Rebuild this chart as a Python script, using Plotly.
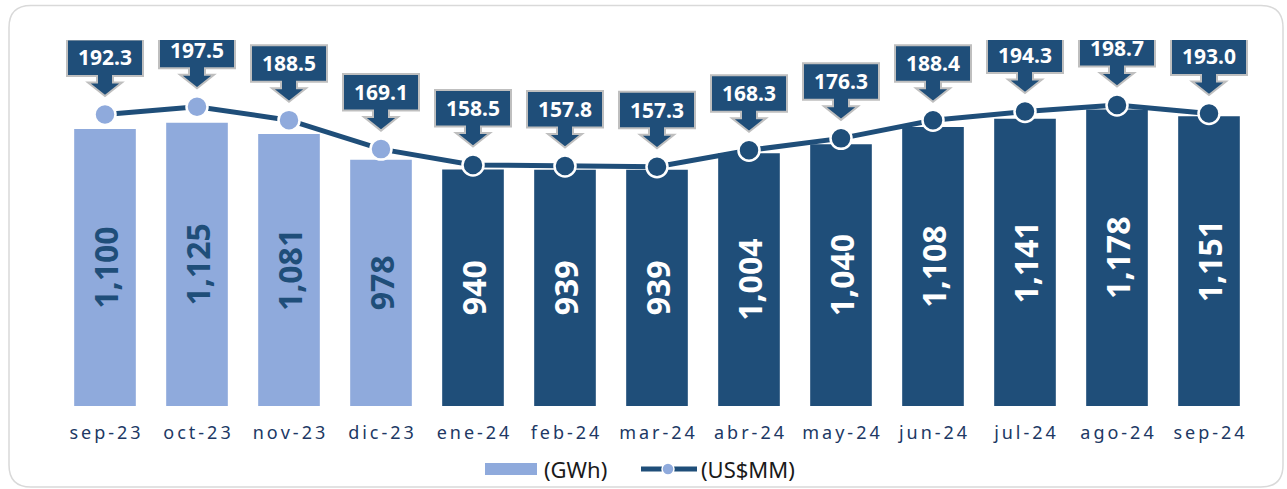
import plotly.graph_objects as go

categories = ["sep-23", "oct-23", "nov-23", "dic-23", "ene-24", "feb-24", "mar-24",
              "abr-24", "may-24", "jun-24", "jul-24", "ago-24", "sep-24"]
gwh = [1100, 1125, 1081, 978, 940, 939, 939, 1004, 1040, 1108, 1141, 1178, 1151]
usd_mm = [192.3, 197.5, 188.5, 169.1, 158.5, 157.8, 157.3, 168.3, 176.3, 188.4, 194.3, 198.7, 193.0]
bar_name = "(GWh)"
line_name = "(US$MM)"

LIGHT = "#8FAADC"
DARK = "#1F4E79"

is_prev_year = [c.endswith("-23") for c in categories]
bar_colors = [LIGHT if p else DARK for p in is_prev_year]
bar_text_colors = [DARK if p else "white" for p in is_prev_year]
tick_text = ["\u2009".join(list(c)) for c in categories]

fig = go.Figure()
fig.add_trace(go.Bar(
    x=categories, y=gwh, name=bar_name, showlegend=False,
    marker=dict(color=bar_colors, line=dict(width=0)),
    texttemplate="%{y:,}", textposition="inside", insidetextanchor="middle",
    textangle=-90,
    textfont=dict(family="Noto Sans", size=32, color=bar_text_colors, weight="bold"),
    constraintext="none",
))
fig.add_trace(go.Scatter(
    x=categories, y=usd_mm, name=line_name, yaxis="y2", mode="lines+markers", showlegend=False,
    line=dict(color=DARK, width=5),
    marker=dict(color=bar_colors, size=21, line=dict(color="white", width=2.5)),
))

# callouts (box + block arrow), anchored on each line point, pixel-sized
callout_path = ("M -38,75 L 38,75 L 38,38.5 L 8,38.5 L 8,32 L 17,32 L 0,18.5 "
                "L -17,32 L -8,32 L -8,38.5 L -38,38.5 Z")
shapes = []
annotations = []
for c, v in zip(categories, usd_mm):
    shapes.append(dict(
        type="path", xref="x", yref="y2", xsizemode="pixel", ysizemode="pixel",
        xanchor=c, yanchor=v, path=callout_path,
        fillcolor=DARK, line=dict(color="#BFBFBF", width=2), layer="above",
    ))
    annotations.append(dict(
        x=c, y=v, xref="x", yref="y2", yshift=57, showarrow=False,
        text=f"{v:.1f}", font=dict(family="Noto Sans", size=21, color="white", weight="bold"),
    ))

# pixel helpers relative to plot area bottom-left (plot area: x 59..1255.5, y 40..406)
PL, PB = 59, 406
def px(x):
    return x - PL
def py(y):
    return PB - y

def pshape(**kw):
    d = dict(xref="paper", yref="paper", xsizemode="pixel", ysizemode="pixel",
             xanchor=0, yanchor=0)
    d.update(kw)
    return d

# rounded outer frame
L, R, T, B, r = px(9), px(1283), py(5.5), py(487), 22
frame = (f"M {L+r},{T} L {R-r},{T} Q {R},{T} {R},{T-r} L {R},{B+r} Q {R},{B} {R-r},{B} "
         f"L {L+r},{B} Q {L},{B} {L},{B+r} L {L},{T-r} Q {L},{T} {L+r},{T} Z")
shapes.append(pshape(type="path", path=frame, line=dict(color="#D9D9D9", width=1.5), layer="below"))

# custom legend
LY = 469
shapes.append(pshape(type="rect", x0=px(485), x1=px(537), y0=py(LY + 6), y1=py(LY - 6),
                     fillcolor=LIGHT, line=dict(width=0)))
shapes.append(pshape(type="line", x0=px(641), x1=px(697), y0=py(LY), y1=py(LY),
                     line=dict(color=DARK, width=5)))
shapes.append(pshape(type="circle", x0=px(662), x1=px(674), y0=py(LY - 6), y1=py(LY + 6),
                     fillcolor=LIGHT, line=dict(color="white", width=1.5)))
legend_font = dict(family="Noto Sans", size=22, color="#1a1a1a")
annotations.append(dict(xref="paper", yref="paper", x=(542 - PL) / 1196.5, y=(PB - LY) / 366,
                        xanchor="left", yanchor="middle", showarrow=False, text=bar_name,
                        font=legend_font))
annotations.append(dict(xref="paper", yref="paper", x=(699 - PL) / 1196.5, y=(PB - LY) / 366,
                        xanchor="left", yanchor="middle", showarrow=False, text=line_name,
                        font=legend_font))

fig.update_layout(
    width=1287, height=489,
    margin=dict(l=59, r=31.5, t=40, b=83),
    paper_bgcolor="white", plot_bgcolor="white",
    bargap=0.33,
    shapes=shapes, annotations=annotations,
    showlegend=False,
    xaxis=dict(tickmode="array", tickvals=categories, ticktext=tick_text,
               range=[-0.5, len(categories) - 0.5], autorange=False,
               tickfont=dict(family="Noto Sans", size=18, color="#203864"),
               showgrid=False, zeroline=False, showline=False, ticks="",
               ticklabelstandoff=14),
    yaxis=dict(range=[0, 1454], visible=False, showgrid=False, zeroline=False),
    yaxis2=dict(range=[-3.0, 242.2], overlaying="y", side="right", visible=False,
                showgrid=False, zeroline=False),
)

fig.write_html("out.html", config={"displayModeBar": False},
               post_script="document.body.style.margin='0';document.body.style.overflow='hidden';")
